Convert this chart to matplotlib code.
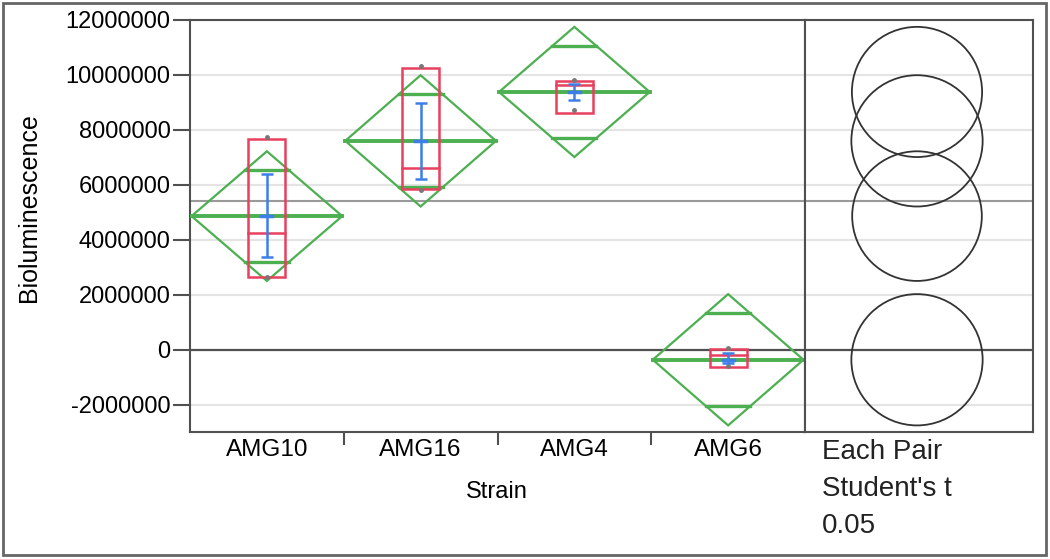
import numpy as np
import matplotlib
matplotlib.use("Agg")
import matplotlib.pyplot as plt
from matplotlib.patches import Polygon, Rectangle, Circle
from matplotlib.ticker import FixedLocator, FuncFormatter

plt.rcParams['font.family'] = ['Liberation Sans', 'DejaVu Sans']

# group summaries
strains = ["AMG10", "AMG16", "AMG4", "AMG6"]
means = [4.86e6, 7.60e6, 9.38e6, -0.37e6]
ci_half = [2.36e6, 2.39e6, 2.37e6, 2.39e6]
box_q1 = [2.63e6, 5.84e6, 8.61e6, -0.62e6]
box_median = [4.23e6, 6.60e6, 9.63e6, -0.20e6]
box_q3 = [7.66e6, 10.26e6, 9.78e6, 0.04e6]
data_min = [2.66e6, 5.80e6, 8.72e6, -0.60e6]
data_max = [7.74e6, 10.33e6, 9.83e6, 0.05e6]
sem_low = [3.36e6, 6.20e6, 9.08e6, -0.47e6]
sem_high = [6.39e6, 8.98e6, 9.68e6, -0.12e6]
grand_mean = 5.40e6
y_ticks = [-2000000, 0, 2000000, 4000000, 6000000, 8000000, 10000000, 12000000]
legend_lines = ["Each Pair", "Student's t", "0.05"]

GREEN = "#4caf50"
RED = "#e8405e"
BLUE = "#3d7fe6"
GRID = "#e4e4e4"
DARK = "#505050"

W, H = 1050, 559
fig = plt.figure(figsize=(W / 100, H / 100), dpi=100)


def fx(px):
    return px / W


def fy(py):
    return 1 - py / H


ax = fig.add_axes([fx(190), fy(432), fx(805) - fx(190), fy(20) - fy(432)])
ax2 = fig.add_axes([fx(805), fy(432), fx(1033) - fx(805), fy(20) - fy(432)])

ylim = (-3.0e6, 12.0e6)
for a in (ax, ax2):
    a.set_ylim(*ylim)
    for t in y_ticks:
        a.axhline(t, color=GRID, lw=1.5, zorder=0)
    a.axhline(grand_mean, color="#9a9a9a", lw=1.5, zorder=1)
    a.axhline(0, color=DARK, lw=1.6, zorder=1)
    for s in a.spines.values():
        s.set_color(DARK)
        s.set_linewidth(1.5)

hw = 0.49
for k, name in enumerate(strains):
    c = k + 0.5
    m, h = means[k], ci_half[k]
    # means diamond
    ax.add_patch(Polygon([[c - hw, m], [c, m + h], [c + hw, m], [c, m - h]],
                         closed=True, fill=False, edgecolor=GREEN, lw=1.6, zorder=3))
    ax.plot([c - hw, c + hw], [m, m], color=GREEN, lw=2.8, zorder=3)
    d = h / np.sqrt(2)
    ow = hw * (1 - 1 / np.sqrt(2))
    for s in (1, -1):
        ax.plot([c - ow, c + ow], [m + s * d, m + s * d], color=GREEN, lw=2.4, zorder=3)
    # quantile box
    bw = 0.12
    ax.add_patch(Rectangle((c - bw, box_q1[k]), 2 * bw, box_q3[k] - box_q1[k],
                           fill=False, edgecolor=RED, lw=1.8, zorder=4))
    ax.plot([c - bw, c + bw], [box_median[k], box_median[k]], color=RED, lw=1.8, zorder=4)
    ax.plot([c, c], [data_min[k], data_max[k]], ls="none", marker="o", ms=2.5,
            color="#777777", zorder=5)
    # std error bars
    ax.errorbar([c], [m], yerr=[[m - sem_low[k]], [sem_high[k] - m]], fmt="none",
                ecolor=BLUE, elinewidth=1.8, capsize=4.5, capthick=1.8, zorder=6)
    ax.plot([c - 0.035, c + 0.035], [m, m], color=BLUE, lw=2.5, zorder=6)

ax.set_xlim(0, 4)
ax.xaxis.set_major_locator(FixedLocator([1, 2, 3]))
ax.xaxis.set_minor_locator(FixedLocator([0.5, 1.5, 2.5, 3.5]))
ax.set_xticklabels([])
ax.set_xticklabels(strains, minor=True)
ax.tick_params(axis="x", which="major", length=9, width=1.5, color=DARK)
ax.tick_params(axis="x", which="minor", length=0, pad=5, labelsize=17.5)
ax.set_yticks(y_ticks)
ax.yaxis.set_major_formatter(FuncFormatter(lambda v, p: f"{int(round(v))}"))
ax.tick_params(axis="y", length=12, width=1.5, color=DARK, pad=2, labelsize=17)

fig.text(fx(497), fy(492), "Strain", fontsize=17, ha="center", va="center")
fig.text(fx(29), fy(208), "Bioluminescence", fontsize=18, rotation=90,
         ha="center", va="center")

# comparison circles panel, kept round by matching x span to pixel aspect
span_y = ylim[1] - ylim[0]
span_x = span_y * (1033 - 805) / (432 - 20)
ax2.set_xlim(0, span_x)
ax2.set_xticks([])
ax2.set_yticks([])
cx = span_x * (917 - 805) / (1033 - 805)
for k in range(len(strains)):
    ax2.add_patch(Circle((cx, means[k]), ci_half[k], fill=False,
                         edgecolor="#333333", lw=1.3, zorder=3))

for i, line in enumerate(legend_lines):
    fig.text(fx(822), fy(459 + 37 * i), line, fontsize=20, ha="left",
             va="baseline", color="#222222")

fig.patches.append(Rectangle((fx(3), fy(555)), fx(1046) - fx(3), fy(3) - fy(555),
                             transform=fig.transFigure, fill=False,
                             edgecolor="#666666", lw=2))

fig.savefig("out.png", dpi=100)
